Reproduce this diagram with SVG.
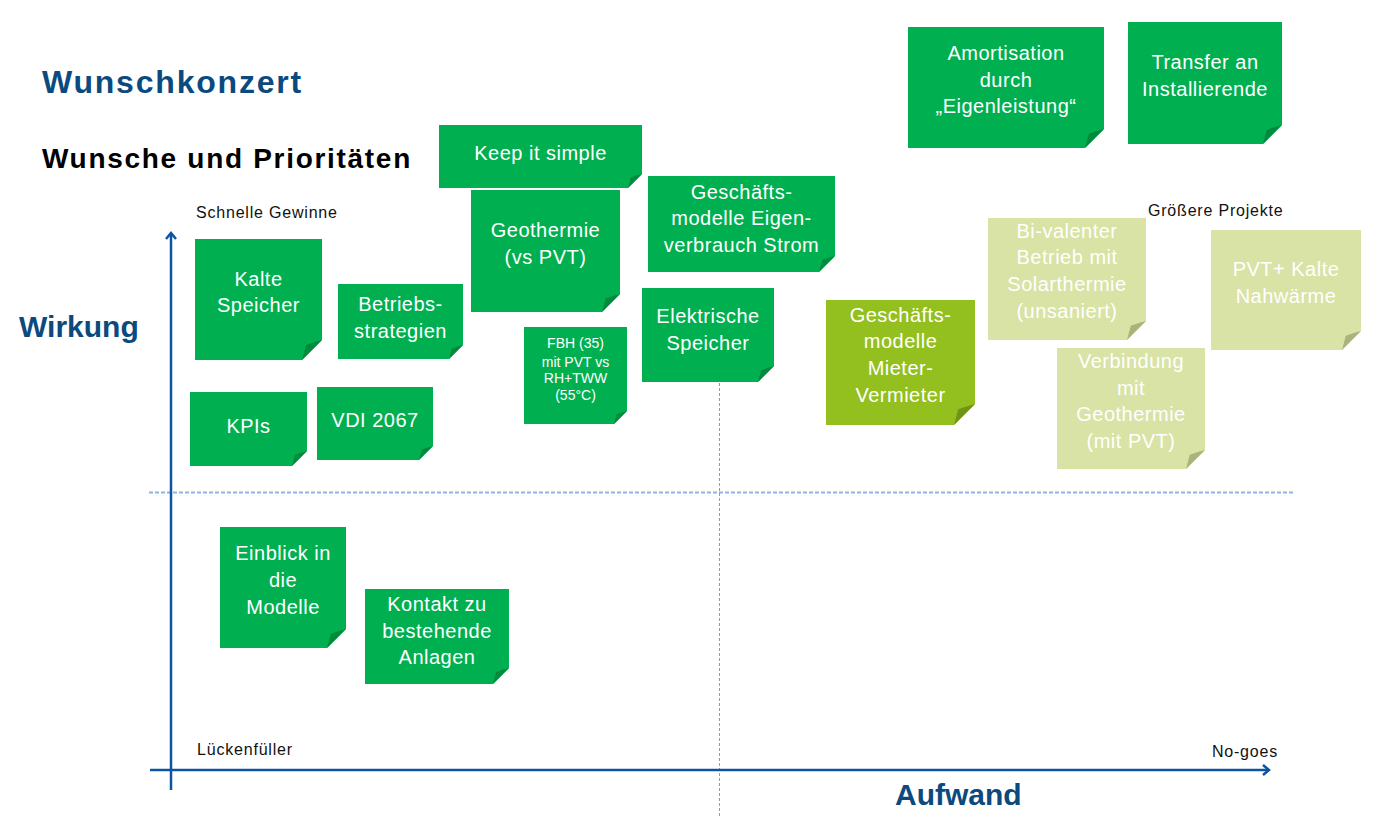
<svg xmlns="http://www.w3.org/2000/svg" width="1376" height="836" viewBox="0 0 1376 836">
<defs>
<style>
.g{fill:#00B050}.gf{fill:#008A3E}
.l{fill:#93C01F}.lf{fill:#6F9418}
.p{fill:#D8E3A5}.pf{fill:#A9B37C}
.t{font-family:"Liberation Sans",Arial,sans-serif;font-size:20px;fill:#FFFFFF;text-anchor:middle;letter-spacing:0.5px}
.ts{font-family:"Liberation Sans",Arial,sans-serif;font-size:14px;fill:#FFFFFF;text-anchor:middle}
.lab{font-family:"Liberation Sans",Arial,sans-serif;font-size:16px;fill:#111111;letter-spacing:0.8px}
.h{font-family:"Liberation Sans",Arial,sans-serif;font-weight:bold;fill:#0B4A7E}
.ax{stroke:#0B54A4;stroke-width:2.5;fill:none}
</style>
<marker id="arr" markerUnits="userSpaceOnUse" markerWidth="14" markerHeight="14" refX="8" refY="6" orient="auto">
<path d="M2,1 L8,6 L2,11" fill="none" stroke="#0B54A4" stroke-width="2.5"/>
</marker>
</defs>
<rect width="1376" height="836" fill="#FFFFFF"/>

<g id="titles">
<text class="h" x="42" y="93" font-size="32" letter-spacing="1.8">Wunschkonzert</text>
<text x="42" y="168" font-family="Liberation Sans, Arial, sans-serif" font-weight="bold" font-size="28" letter-spacing="1.7" fill="#000000">Wunsche und Prioritäten</text>
<text class="h" x="19" y="337" font-size="30">Wirkung</text>
<text class="h" x="895" y="805" font-size="30">Aufwand</text>
<text class="lab" x="196" y="218">Schnelle Gewinne</text>
<text class="lab" x="1148" y="216">Größere Projekte</text>
<text class="lab" x="197" y="755">Lückenfüller</text>
<text class="lab" x="1278" y="757" text-anchor="end">No-goes</text>
</g>

<g id="connectors">
<line x1="149" y1="492.5" x2="1294" y2="492.5" stroke="#8EB4E3" stroke-width="2" stroke-dasharray="4,2"/>
<line x1="719.5" y1="383" x2="719.5" y2="818" stroke="#7F9FC8" stroke-width="1" stroke-dasharray="3,2"/>
<line class="ax" x1="171" y1="790" x2="171" y2="233" marker-end="url(#arr)"/>
<line class="ax" x1="150" y1="770" x2="1269" y2="770" marker-end="url(#arr)"/>
</g>

<g id="keep" transform="translate(439,125)">
<path class="g" d="M0,0H203V49L189,63H0Z"/><path class="gf" d="M189,63L191.8,52.5Q197.4,50.4 203,49Z"/>
<text class="t" x="101.5" y="35">Keep it simple</text>
</g>
<g id="amortisation" transform="translate(908,27)">
<path class="g" d="M0,0H196V102L177,121H0Z"/><path class="gf" d="M177,121L180.8,106.75Q188.4,103.9 196,102Z"/>
<text class="t" x="98" y="33">Amortisation</text>
<text class="t" x="98" y="60">durch</text>
<text class="t" x="98" y="86">„Eigenleistung“</text>
</g>
<g id="transfer" transform="translate(1128,22)">
<path class="g" d="M0,0H154V103L135,122H0Z"/><path class="gf" d="M135,122L138.8,107.75Q146.4,104.9 154,103Z"/>
<text class="t" x="77" y="47">Transfer an</text>
<text class="t" x="77" y="74">Installierende</text>
</g>
<g id="geothermie" transform="translate(471,190)">
<path class="g" d="M0,0H149V104L131,122H0Z"/><path class="gf" d="M131,122L134.6,108.5Q141.8,105.8 149,104Z"/>
<text class="t" x="74.5" y="47">Geothermie</text>
<text class="t" x="74.5" y="74">(vs PVT)</text>
</g>
<g id="eigenverbrauch" transform="translate(648,176)">
<path class="g" d="M0,0H187V80L171,96H0Z"/><path class="gf" d="M171,96L174.2,84Q180.6,81.6 187,80Z"/>
<text class="t" x="93.5" y="23">Geschäfts-</text>
<text class="t" x="93.5" y="49">modelle Eigen-</text>
<text class="t" x="93.5" y="76">verbrauch Strom</text>
</g>
<g id="kalte" transform="translate(195,239)">
<path class="g" d="M0,0H127V101L107,121H0Z"/><path class="gf" d="M107,121L111,106Q119,103 127,101Z"/>
<text class="t" x="63.5" y="47">Kalte</text>
<text class="t" x="63.5" y="73">Speicher</text>
</g>
<g id="betrieb" transform="translate(338,284)">
<path class="g" d="M0,0H125V61L111,75H0Z"/><path class="gf" d="M111,75L113.8,64.5Q119.4,62.4 125,61Z"/>
<text class="t" x="62.5" y="27">Betriebs-</text>
<text class="t" x="62.5" y="54">strategien</text>
</g>
<g id="fbh" transform="translate(524,327)">
<path class="g" d="M0,0H103V84L90,97H0Z"/><path class="gf" d="M90,97L92.6,87.25Q97.8,85.3 103,84Z"/>
<text class="ts" x="51.5" y="21">FBH (35)</text>
<text class="ts" x="51.5" y="39.5">mit PVT vs</text>
<text class="ts" x="51.5" y="56">RH+TWW</text>
<text class="ts" x="51.5" y="73">(55°C)</text>
</g>
<g id="elektrisch" transform="translate(642,288)">
<path class="g" d="M0,0H132V78L116,94H0Z"/><path class="gf" d="M116,94L119.2,82Q125.6,79.6 132,78Z"/>
<text class="t" x="66" y="35">Elektrische</text>
<text class="t" x="66" y="62">Speicher</text>
</g>
<g id="kpis" transform="translate(190,392)">
<path class="g" d="M0,0H117V59L102,74H0Z"/><path class="gf" d="M102,74L105,62.75Q111,60.5 117,59Z"/>
<text class="t" x="58.5" y="41">KPIs</text>
</g>
<g id="vdi" transform="translate(317,387)">
<path class="g" d="M0,0H116V59L102,73H0Z"/><path class="gf" d="M102,73L104.8,62.5Q110.4,60.4 116,59Z"/>
<text class="t" x="58" y="40">VDI 2067</text>
</g>
<g id="mieter" transform="translate(826,300)">
<path class="l" d="M0,0H149V104L128,125H0Z"/><path class="lf" d="M128,125L132.2,109.25Q140.6,106.1 149,104Z"/>
<text class="t" x="74.5" y="21.5">Geschäfts-</text>
<text class="t" x="74.5" y="48">modelle</text>
<text class="t" x="74.5" y="74.5">Mieter-</text>
<text class="t" x="74.5" y="101.5">Vermieter</text>
</g>
<g id="bivalent" transform="translate(988,218)">
<path class="p" d="M0,0H158V103L139,122H0Z"/><path class="pf" d="M139,122L142.8,107.75Q150.4,104.9 158,103Z"/>
<text class="t" x="79" y="19.5">Bi-valenter</text>
<text class="t" x="79" y="46">Betrieb mit</text>
<text class="t" x="79" y="73">Solarthermie</text>
<text class="t" x="79" y="99.5">(unsaniert)</text>
</g>
<g id="pvtkalt" transform="translate(1211,230)">
<path class="p" d="M0,0H150V101L131,120H0Z"/><path class="pf" d="M131,120L134.8,105.75Q142.4,102.9 150,101Z"/>
<text class="t" x="75" y="46">PVT+ Kalte</text>
<text class="t" x="75" y="73">Nahwärme</text>
</g>
<g id="verbindung" transform="translate(1057,348)">
<path class="p" d="M0,0H148V102L129,121H0Z"/><path class="pf" d="M129,121L132.8,106.75Q140.4,103.9 148,102Z"/>
<text class="t" x="74" y="20">Verbindung</text>
<text class="t" x="74" y="47">mit</text>
<text class="t" x="74" y="73">Geothermie</text>
<text class="t" x="74" y="100">(mit PVT)</text>
</g>
<g id="einblick" transform="translate(220,527)">
<path class="g" d="M0,0H126V102L107,121H0Z"/><path class="gf" d="M107,121L110.8,106.75Q118.4,103.9 126,102Z"/>
<text class="t" x="63" y="33">Einblick in</text>
<text class="t" x="63" y="60">die</text>
<text class="t" x="63" y="87">Modelle</text>
</g>
<g id="kontakt" transform="translate(365,589)">
<path class="g" d="M0,0H144V79L128,95H0Z"/><path class="gf" d="M128,95L131.2,83Q137.6,80.6 144,79Z"/>
<text class="t" x="72" y="22">Kontakt zu</text>
<text class="t" x="72" y="49">bestehende</text>
<text class="t" x="72" y="75">Anlagen</text>
</g>
</svg>
